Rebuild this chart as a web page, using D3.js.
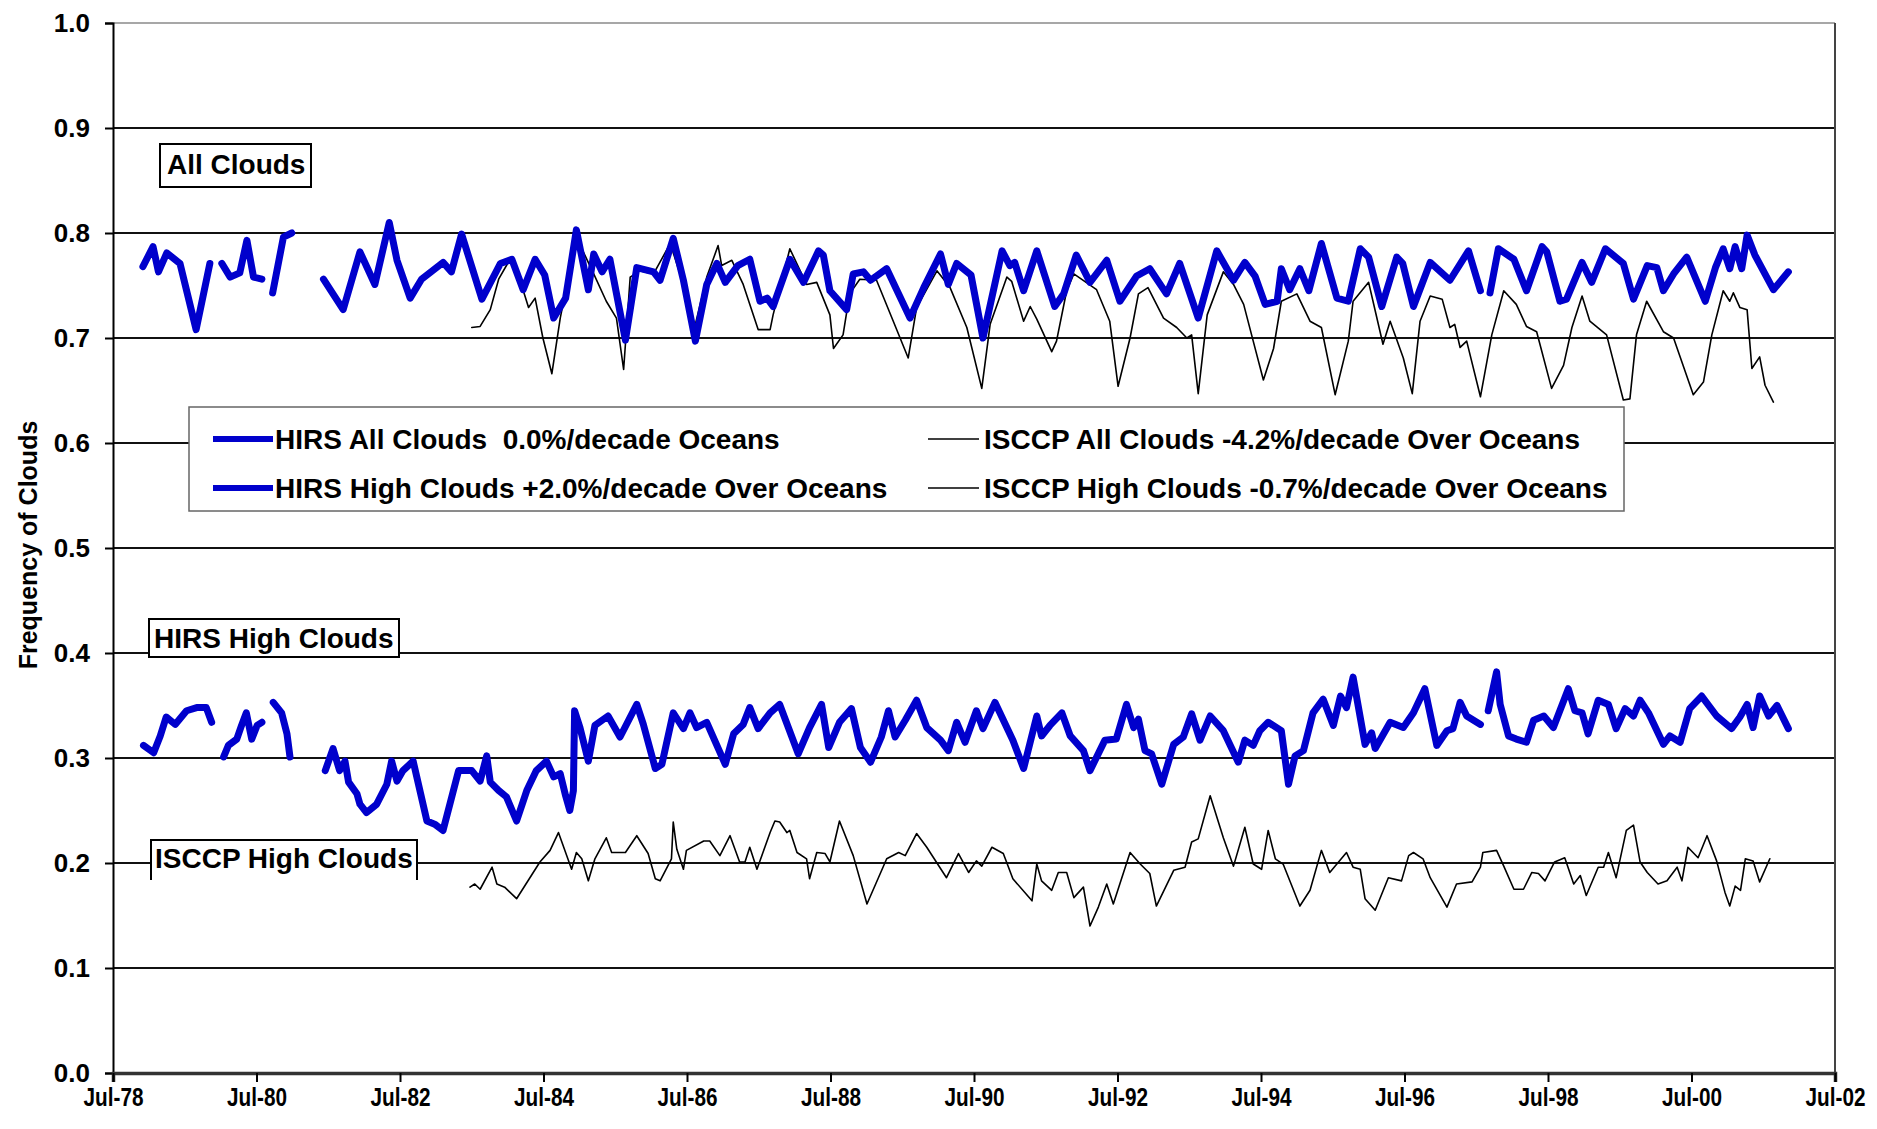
<!DOCTYPE html>
<html><head><meta charset="utf-8">
<script src="https://cdn.jsdelivr.net/npm/d3@7"></script>
<style>
html,body{margin:0;padding:0;background:#fff;}
svg{display:block;font-family:"Liberation Sans",Arial,sans-serif;font-weight:bold;}
</style>
</head><body>
<svg id="chart" width="1877" height="1129"></svg>
<script>
// ---- DATA (x = months since Jul-1978, null = gap in record) ----
const xTickMonths = [0,24,48,72,96,120,144,168,192,216,240,264,288];
const xTickLabels = ["Jul-78","Jul-80","Jul-82","Jul-84","Jul-86","Jul-88","Jul-90","Jul-92","Jul-94","Jul-96","Jul-98","Jul-00","Jul-02"];
const yTicks = [0,0.1,0.2,0.3,0.4,0.5,0.6,0.7,0.8,0.9,1.0];
const yTickLabels = ["0.0","0.1","0.2","0.3","0.4","0.5","0.6","0.7","0.8","0.9","1.0"];

const hirsAllMonths = [5.0,6.7,7.6,9.0,11.2,13.9,16.2,null,18.2,19.6,21.2,22.4,23.5,24.9,null,26.7,28.5,29.9,null,
35.2,38.5,41.3,43.8,46.2,47.5,49.7,51.6,55.2,56.6,58.3,61.7,64.8,66.7,68.6,70.6,72.2,73.7,75.7,77.5,
79.5,80.4,81.8,83.1,85.7,87.6,90.4,91.5,93.7,95.4,97.4,99.3,101.0,102.4,104.5,106.5,108.2,109.4,110.4,113.2,
115.5,118.0,118.8,119.9,122.7,123.8,125.5,126.7,129.4,133.3,135.6,138.4,139.7,141.1,143.5,145.5,148.7,150.0,150.8,152.3,
154.5,157.5,159.0,161.1,163.4,166.2,168.4,171.2,173.4,176.2,178.4,181.5,184.6,187.4,189.3,191.0,192.7,194.7,195.4,196.8,
198.5,200.0,202.1,204.7,206.6,208.6,210.0,212.2,214.7,215.7,217.5,220.3,223.6,226.7,228.7,null,
230.3,231.7,234.3,236.4,239.0,239.8,242.0,243.1,245.7,247.3,249.6,252.6,254.3,256.6,258.2,259.3,261.0,263.2,266.3,268.0,
269.3,270.4,271.3,272.4,273.3,274.6,277.7,280.2];
const hirsAllValues = [0.768,0.787,0.763,0.781,0.771,0.708,0.771,null,0.771,0.758,0.762,0.793,0.758,0.756,null,0.743,0.796,0.800,null,
0.756,0.727,0.782,0.751,0.810,0.774,0.738,0.756,0.772,0.763,0.799,0.737,0.771,0.775,0.746,0.775,0.760,0.719,0.738,0.803,
0.746,0.780,0.763,0.775,0.698,0.767,0.763,0.755,0.795,0.755,0.697,0.751,0.771,0.753,0.769,0.775,0.735,0.738,0.730,0.775,
0.753,0.783,0.779,0.745,0.727,0.761,0.763,0.755,0.766,0.719,0.748,0.780,0.751,0.771,0.760,0.700,0.783,0.769,0.772,0.745,
0.783,0.730,0.742,0.779,0.753,0.774,0.735,0.759,0.766,0.742,0.771,0.719,0.783,0.755,0.772,0.759,0.732,0.735,0.766,0.746,
0.766,0.745,0.790,0.738,0.735,0.785,0.777,0.730,0.777,0.771,0.730,0.772,0.755,0.783,0.745,null,
0.743,0.785,0.775,0.745,0.787,0.782,0.735,0.737,0.772,0.753,0.785,0.771,0.737,0.769,0.767,0.745,0.761,0.777,0.735,0.767,
0.785,0.766,0.787,0.766,0.798,0.779,0.746,0.763];

const isccpAllMonths = [60.0,61.4,63.1,64.5,66.4,67.8,69.5,70.6,71.9,73.4,74.8,77.5,80.4,82.5,84.2,85.4,86.5,88.1,90.4,93.2,
95.4,97.1,99.3,101.2,101.8,103.5,105.4,107.9,109.9,110.4,113.2,116.0,117.7,119.9,120.5,122.1,123.2,124.9,127.7,130.5,
133.0,134.4,137.8,140.0,142.8,145.3,146.7,149.5,150.3,152.3,153.4,154.5,157.0,157.8,159.5,160.7,164.5,166.7,168.1,170.1,
171.5,173.1,175.7,177.9,179.6,180.4,181.5,183.0,185.7,187.4,189.1,190.7,192.4,194.1,195.4,198.0,200.2,202.1,204.4,206.6,
207.4,210.0,211.1,212.4,213.6,215.8,217.3,218.6,220.3,222.3,223.6,224.4,225.3,226.4,228.7,230.6,232.6,234.7,236.4,238.1,
240.6,242.6,244.0,245.7,247.0,249.8,252.6,253.7,254.8,256.5,259.3,261.0,264.3,266.0,267.4,269.3,270.4,271.0,272.1,273.3,
274.1,275.4,276.3,277.7];
const isccpAllValues = [0.710,0.711,0.727,0.756,0.775,0.760,0.729,0.738,0.700,0.666,0.719,0.796,0.761,0.735,0.719,0.670,0.758,0.764,0.761,0.790,
0.751,0.706,0.758,0.788,0.769,0.774,0.751,0.708,0.708,0.722,0.785,0.751,0.753,0.722,0.690,0.703,0.742,0.756,0.755,0.716,
0.681,0.729,0.764,0.748,0.710,0.652,0.713,0.758,0.754,0.716,0.730,0.718,0.687,0.697,0.745,0.761,0.746,0.716,0.654,0.700,
0.742,0.748,0.719,0.710,0.700,0.703,0.647,0.722,0.763,0.751,0.732,0.697,0.660,0.690,0.735,0.742,0.716,0.710,0.646,0.697,
0.735,0.753,0.726,0.694,0.716,0.681,0.647,0.716,0.740,0.737,0.710,0.713,0.691,0.697,0.644,0.703,0.745,0.732,0.711,0.706,
0.652,0.674,0.710,0.740,0.716,0.703,0.641,0.642,0.703,0.735,0.706,0.700,0.646,0.658,0.703,0.745,0.735,0.743,0.729,0.727,
0.671,0.682,0.655,0.639];

const hirsHighMonths = [5.1,6.8,7.9,8.9,10.4,12.3,14.0,15.6,16.5,null,18.5,19.3,20.7,21.5,22.3,23.2,24.1,24.9,null,26.8,28.2,29.1,29.6,null,
35.5,36.8,37.9,38.8,39.4,40.8,41.3,42.4,44.1,45.8,46.6,47.5,48.5,50.2,52.5,53.8,55.2,57.8,60.0,61.4,
62.5,63.1,64.5,65.8,67.5,69.2,70.8,72.5,73.7,74.8,75.7,76.4,77.0,77.2,78.1,79.5,80.6,82.8,84.8,87.6,
88.7,90.7,91.8,93.7,95.4,96.5,97.6,99.3,102.4,103.8,105.4,106.5,107.9,109.9,111.5,114.6,116.5,118.5,119.7,121.5,
123.5,125.0,126.7,128.5,129.7,130.8,132.5,134.4,136.1,138.4,139.7,141.1,142.5,144.4,145.5,147.5,150.5,152.3,154.5,155.3,
156.7,158.7,160.1,162.3,163.4,165.9,167.8,169.5,170.7,171.5,172.6,173.7,175.4,177.4,179.0,180.4,181.8,183.5,185.7,188.2,
189.3,190.7,191.8,193.2,195.4,196.6,197.7,199.1,200.7,202.4,204.1,205.3,206.3,207.4,209.4,210.5,211.1,213.6,215.8,217.5,
219.4,221.4,223.1,224.1,225.3,226.4,228.7,null,
230.0,231.4,232.0,233.4,234.7,236.4,237.6,239.3,240.9,243.4,244.5,245.7,246.7,248.4,250.1,251.4,252.9,254.3,255.4,256.8,
259.3,260.4,262.1,263.7,265.7,268.2,270.7,272.1,273.3,274.3,275.4,276.9,278.3,280.2];
const hirsHighValues = [0.312,0.305,0.321,0.339,0.332,0.345,0.348,0.348,0.334,null,0.301,0.312,0.318,0.331,0.343,0.318,0.331,0.334,null,0.353,0.343,0.323,0.301,null,
0.288,0.309,0.288,0.297,0.277,0.266,0.256,0.248,0.256,0.275,0.297,0.278,0.288,0.297,0.240,0.237,0.231,0.288,0.288,0.278,
0.302,0.277,0.269,0.263,0.240,0.269,0.288,0.297,0.282,0.285,0.264,0.250,0.269,0.345,0.329,0.297,0.331,0.340,0.320,0.351,
0.332,0.290,0.294,0.343,0.328,0.343,0.329,0.334,0.294,0.323,0.332,0.348,0.328,0.343,0.351,0.304,0.329,0.351,0.310,0.334,
0.347,0.310,0.296,0.320,0.345,0.320,0.336,0.355,0.329,0.317,0.307,0.334,0.315,0.345,0.328,0.353,0.317,0.290,0.340,0.321,
0.331,0.343,0.321,0.307,0.288,0.317,0.318,0.351,0.329,0.337,0.307,0.304,0.275,0.313,0.320,0.342,0.317,0.340,0.326,0.296,
0.317,0.312,0.326,0.334,0.326,0.275,0.302,0.307,0.343,0.356,0.331,0.359,0.348,0.377,0.313,0.324,0.309,0.334,0.329,0.343,
0.366,0.312,0.326,0.328,0.353,0.340,0.332,null,
0.345,0.382,0.351,0.321,0.318,0.315,0.336,0.340,0.329,0.366,0.345,0.343,0.323,0.355,0.351,0.328,0.347,0.340,0.355,0.343,
0.313,0.321,0.315,0.347,0.359,0.340,0.328,0.339,0.351,0.329,0.359,0.340,0.350,0.328];

const isccpHighMonths = [59.7,60.5,61.4,63.4,64.2,65.5,67.5,71.4,73.1,74.5,76.7,77.5,78.4,79.5,80.6,82.5,83.4,85.7,87.6,89.5,
90.7,91.5,93.4,93.7,94.3,95.4,95.9,98.8,99.8,101.5,103.2,104.8,105.7,106.5,107.7,109.9,110.7,111.5,112.7,113.2,
114.4,116.0,116.5,117.7,119.1,119.9,121.5,123.8,126.1,129.4,131.4,132.5,134.4,136.1,139.4,141.4,143.1,144.4,145.3,147.0,
148.9,150.5,153.7,154.5,155.3,157.0,158.1,159.5,160.7,162.3,163.4,164.8,166.2,167.3,170.1,171.8,173.4,174.5,177.4,179.3,
180.4,181.5,183.5,185.7,187.4,189.3,190.7,192.1,193.2,194.4,195.7,198.5,200.2,202.1,203.5,206.3,207.4,208.6,209.4,211.1,
213.3,215.5,216.7,217.5,219.1,220.3,223.1,224.7,227.3,228.7,229.1,231.4,232.6,234.3,235.9,237.3,238.4,239.5,241.1,242.8,
244.3,245.4,246.4,248.4,249.3,250.1,251.4,253.1,254.3,255.4,256.6,258.4,259.9,261.6,262.4,263.4,265.1,266.6,268.2,269.6,
270.4,271.3,272.2,273.0,274.3,275.4,277.1];
const isccpHighValues = [0.177,0.180,0.175,0.196,0.180,0.177,0.166,0.201,0.212,0.229,0.194,0.210,0.204,0.183,0.204,0.224,0.210,0.210,0.226,0.209,
0.185,0.183,0.204,0.239,0.213,0.194,0.212,0.221,0.221,0.207,0.226,0.201,0.201,0.215,0.194,0.229,0.240,0.239,0.229,0.231,
0.210,0.204,0.185,0.210,0.209,0.201,0.240,0.207,0.161,0.204,0.210,0.207,0.228,0.215,0.186,0.209,0.191,0.202,0.197,0.215,
0.209,0.185,0.164,0.199,0.183,0.174,0.191,0.191,0.167,0.177,0.140,0.158,0.180,0.161,0.210,0.199,0.190,0.159,0.193,0.196,
0.220,0.223,0.264,0.224,0.197,0.234,0.199,0.194,0.231,0.204,0.199,0.159,0.174,0.212,0.191,0.210,0.196,0.194,0.166,0.155,
0.186,0.183,0.207,0.210,0.204,0.186,0.158,0.180,0.182,0.196,0.210,0.212,0.197,0.175,0.175,0.191,0.190,0.183,0.201,0.205,
0.180,0.188,0.169,0.196,0.196,0.210,0.186,0.231,0.236,0.201,0.191,0.180,0.183,0.196,0.183,0.215,0.205,0.226,0.202,0.172,
0.159,0.178,0.174,0.204,0.202,0.182,0.204];

const legendLabels = [
  "HIRS All Clouds  0.0%/decade Oceans",
  "HIRS High Clouds +2.0%/decade Over Oceans",
  "ISCCP All Clouds -4.2%/decade Over Oceans",
  "ISCCP High Clouds -0.7%/decade Over Oceans"
];
const boxLabels = ["All Clouds","HIRS High Clouds","ISCCP High Clouds"];
const yTitle = "Frequency of Clouds";

// ---- LAYOUT ----
const plot = {left:113, right:1835, top:23, bottom:1073};
const BLUE = "#0000cc";
const x = d3.scaleLinear().domain([0,288]).range([plot.left, plot.right]);
const y = d3.scaleLinear().domain([0,1]).range([plot.bottom, plot.top]);
const svg = d3.select("#chart");

// gridlines
svg.append("g").selectAll("line")
  .data(yTicks.filter(t => t > 0 && t < 1))
  .join("line")
  .attr("x1", plot.left).attr("x2", plot.right)
  .attr("y1", d => y(d)).attr("y2", d => y(d))
  .attr("stroke", "#111").attr("stroke-width", 2);
// top and right border of plot area
svg.append("line").attr("x1", plot.left).attr("x2", plot.right)
  .attr("y1", y(1)).attr("y2", y(1)).attr("stroke", "#8a8a8a").attr("stroke-width", 1.5);
svg.append("line").attr("x1", plot.right).attr("x2", plot.right)
  .attr("y1", y(1)).attr("y2", y(0)).attr("stroke", "#444").attr("stroke-width", 2);

// axes
const yAxis = d3.axisLeft(y).tickValues(yTicks)
  .tickFormat((d,i) => yTickLabels[i]).tickSize(8).tickPadding(15);
const gy = svg.append("g").attr("transform", `translate(${plot.left},0)`).call(yAxis);
gy.select(".domain").attr("stroke", "#000").attr("stroke-width", 2);
gy.selectAll(".tick line").attr("stroke", "#000").attr("stroke-width", 2);
gy.selectAll(".tick text").attr("font-size", 26).attr("font-weight", "bold")
  .attr("font-family", "Liberation Sans, Arial, sans-serif").attr("fill", "#000");

const xAxis = d3.axisBottom(x).tickValues(xTickMonths)
  .tickFormat((d,i) => xTickLabels[i]).tickSize(9).tickPadding(6);
const gx = svg.append("g").attr("transform", `translate(0,${plot.bottom})`).call(xAxis);
gx.select(".domain").attr("stroke", "#333").attr("stroke-width", 3.5);
gx.selectAll(".tick line").attr("stroke", "#000").attr("stroke-width", 2);
gx.selectAll(".tick text").attr("font-size", 26).attr("font-weight", "bold")
  .attr("font-family", "Liberation Sans, Arial, sans-serif").attr("fill", "#000")
  .attr("textLength", 60).attr("lengthAdjust", "spacingAndGlyphs");

// y title
svg.append("text").attr("transform", "translate(28,545) rotate(-90)")
  .attr("text-anchor", "middle").attr("dominant-baseline", "central")
  .attr("font-size", 25).text(yTitle);

// ---- SERIES ----
function pts(ms, vs) { return d3.zip(ms, vs).map(([m, v]) => ({m, v})); }
const line = d3.line().defined(d => d.v !== null && d.m !== null)
  .x(d => x(d.m)).y(d => y(d.v));
const series = [
  {data: pts(isccpAllMonths, isccpAllValues), color: "#000", w: 1.6},
  {data: pts(isccpHighMonths, isccpHighValues), color: "#000", w: 1.6},
  {data: pts(hirsAllMonths, hirsAllValues), color: BLUE, w: 7},
  {data: pts(hirsHighMonths, hirsHighValues), color: BLUE, w: 7}
];
svg.append("g").selectAll("path").data(series).join("path")
  .attr("d", d => line(d.data)).attr("fill", "none")
  .attr("stroke", d => d.color).attr("stroke-width", d => d.w)
  .attr("stroke-linejoin", "round").attr("stroke-linecap", "round");

// ---- LEGEND ----
const lg = svg.append("g");
lg.append("rect").attr("x", 189).attr("y", 407).attr("width", 1435).attr("height", 104)
  .attr("fill", "#fff").attr("stroke", "#666").attr("stroke-width", 1.5);
const legendItems = [
  {label: legendLabels[0], color: BLUE, w: 6, x0: 213, x1: 273, tx: 275, cy: 439},
  {label: legendLabels[1], color: BLUE, w: 6, x0: 213, x1: 273, tx: 275, cy: 488},
  {label: legendLabels[2], color: "#000", w: 1.7, x0: 928, x1: 979, tx: 984, cy: 439},
  {label: legendLabels[3], color: "#000", w: 1.7, x0: 928, x1: 979, tx: 984, cy: 488}
];
const li = lg.selectAll("g.item").data(legendItems).join("g").attr("class", "item");
li.append("line").attr("x1", d => d.x0).attr("x2", d => d.x1)
  .attr("y1", d => d.cy).attr("y2", d => d.cy)
  .attr("stroke", d => d.color).attr("stroke-width", d => d.w);
li.append("text").attr("x", d => d.tx).attr("y", d => d.cy + 10)
  .attr("font-size", 28).attr("xml:space", "preserve").style("white-space", "pre").text(d => d.label);

// ---- LABEL BOXES ----
const boxes = [
  {label: boxLabels[0], x: 160, y: 144, w: 151, h: 43, tx: 167, ty: 174, bottom: true},
  {label: boxLabels[1], x: 149, y: 619, w: 250, h: 38, tx: 154, ty: 648, bottom: true},
  {label: boxLabels[2], x: 151, y: 840, w: 266, h: 40, tx: 155, ty: 868, bottom: false}
];
const bg = svg.append("g");
boxes.forEach(b => {
  bg.append("rect").attr("x", b.x).attr("y", b.y).attr("width", b.w).attr("height", b.h)
    .attr("fill", "#fff").attr("stroke", "none");
  const p = b.bottom
    ? `M${b.x},${b.y}H${b.x+b.w}V${b.y+b.h}H${b.x}Z`
    : `M${b.x},${b.y+b.h}V${b.y}H${b.x+b.w}V${b.y+b.h}`;
  bg.append("path").attr("d", p).attr("fill", "none").attr("stroke", "#000").attr("stroke-width", 2);
  bg.append("text").attr("x", b.tx).attr("y", b.ty).attr("font-size", 28).text(b.label);
});
</script>
</body></html>
